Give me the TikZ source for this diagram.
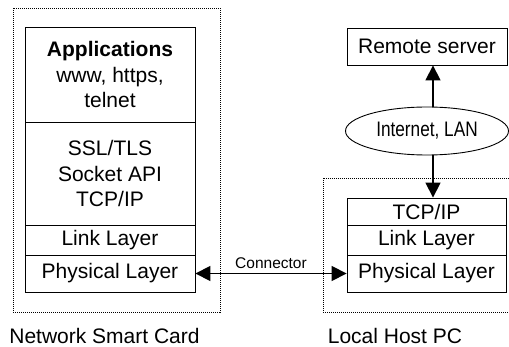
\documentclass[tikz,border=0pt]{standalone}
\usepackage{fontspec}
\setmainfont{Liberation Sans}
\usetikzlibrary{arrows.meta,shapes.geometric}
\begin{document}
\begin{tikzpicture}[x=1pt,y=-1pt,
  layer/.style={draw,line width=0.9pt,inner sep=0pt,align=center,
    font=\fontsize{21}{25.5}\selectfont},
  frame/.style={draw,line width=0.7pt,dash pattern=on 1pt off 1pt},
  caption/.style={font=\fontsize{21}{25}\selectfont,inner sep=0pt},
  link/.style={line width=1.7pt,-{Triangle[length=15pt,width=15pt]}},
  biglink/.style={line width=1.7pt,{Triangle[length=15pt,width=15pt]}-{Triangle[length=15pt,width=15pt]}}]
\useasboundingbox (0,0) rectangle (509,347);
\clip (0,0) rectangle (509,347);
% frames
\draw[frame] (13,8) rectangle (220,312);
\draw[frame] (323,178) rectangle (520,312);
% left stack
\node[layer,minimum width=170pt,minimum height=95pt] (apps) at (110,74.5)
  {\textbf{Applications}\\www, https,\\telnet};
\node[layer,minimum width=170pt,minimum height=103pt] (ssl) at (110,173.5)
  {SSL/TLS\\Socket API\\TCP/IP};
\node[layer,minimum width=170pt,minimum height=30pt] (llink) at (110,240) {Link Layer};
\node[layer,minimum width=170pt,minimum height=37pt] (lphys) at (110,273.5) {Physical Layer};
% right stack
\node[layer,minimum width=159pt,minimum height=27pt] (tcp) at (426.5,211.5) {TCP/IP};
\node[layer,minimum width=159pt,minimum height=30pt] (rlink) at (426.5,240) {Link Layer};
\node[layer,minimum width=159pt,minimum height=37pt] (rphys) at (426.5,273.5) {Physical Layer};
\node[layer,minimum width=160pt,minimum height=37pt] (remote) at (427,46.5) {Remote server};
\node[draw,ellipse,line width=0.9pt,minimum width=163pt,minimum height=48pt,inner sep=0pt] (inet) at (427,131)
  {\fontsize{21}{25}\selectfont\scalebox{0.82}[1]{Internet, LAN}};
% connectors
\coordinate (ax) at (433,0);
\draw[link] (inet.north -| ax) -- (remote.south -| ax);
\draw[link] (inet.south -| ax) -- (tcp.north -| ax);
\draw[biglink] (lphys.east) -- node[above=4pt,inner sep=0pt,font=\fontsize{15.5}{18}\selectfont] (conn) {Connector} (rphys.west);
% captions
\node[caption] (card) at (104.5,336) {Network Smart Card};
\node[caption] (host) at (395,336) {Local Host PC};
\end{tikzpicture}
\end{document}
